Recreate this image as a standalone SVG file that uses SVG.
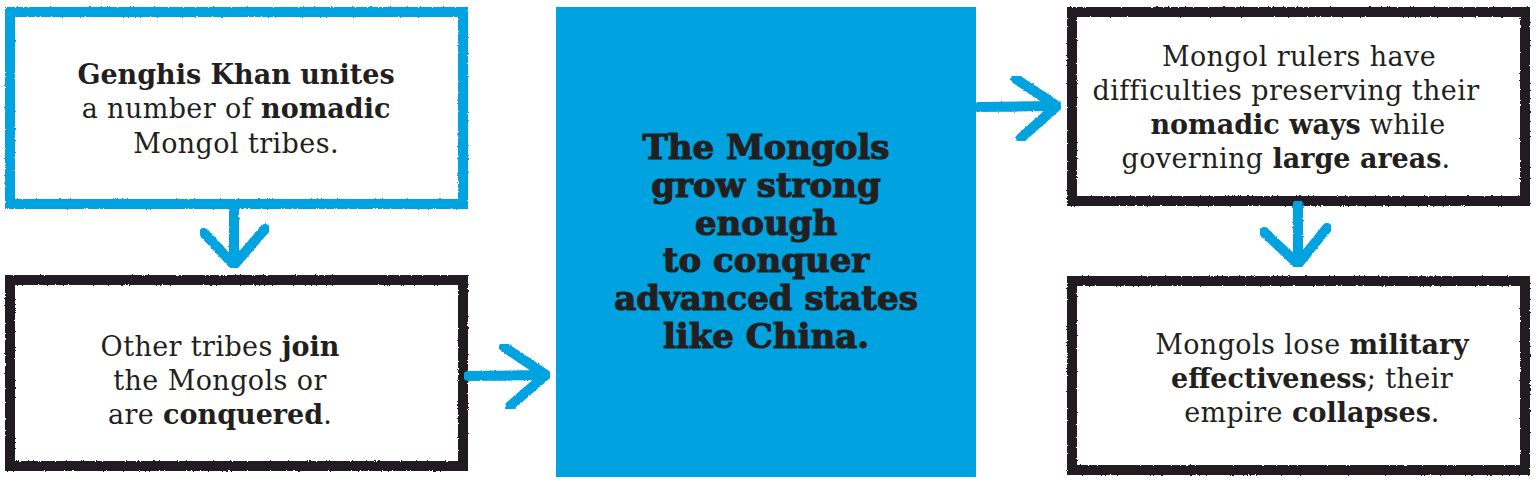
<svg xmlns="http://www.w3.org/2000/svg" width="1536" height="482" viewBox="0 0 1536 482">
<defs>
<filter id="rough" x="-5%" y="-5%" width="110%" height="110%">
<feTurbulence type="fractalNoise" baseFrequency="0.6" numOctaves="2" seed="3" result="n"/>
<feDisplacementMap in="SourceGraphic" in2="n" scale="2.5" xChannelSelector="R" yChannelSelector="G"/>
</filter>
</defs>
<style>
.box{fill:#fff;stroke-width:10;stroke-linejoin:miter;filter:url(#rough)}
.blue{stroke:#00a3e0}
.black{stroke:#231f20}
.t{font-family:"DejaVu Serif","Liberation Serif",serif;font-size:27px;fill:#231f20;text-anchor:middle;letter-spacing:0.4px}
.b{font-weight:bold;letter-spacing:0}
.c{font-family:"DejaVu Serif","Liberation Serif",serif;font-size:34px;font-weight:bold;fill:#231f20;stroke:#231f20;stroke-width:1.2;text-anchor:middle}
.arr{fill:none;stroke:#00a3e0;stroke-width:10;stroke-linecap:round;stroke-linejoin:round;filter:url(#rough)}
</style>
<rect width="1536" height="482" fill="#fff"/>
<g id="node1">
<rect class="box blue" x="10" y="12" width="453" height="192"/>
<text class="t" x="236" y="84"><tspan class="b">Genghis Khan unites</tspan></text>
<text class="t" x="236" y="118">a number of <tspan class="b">nomadic</tspan></text>
<text class="t" x="236" y="153">Mongol tribes.</text>
</g>
<g id="node2">
<rect class="box black" x="10" y="280" width="453" height="186"/>
<text class="t" x="220" y="356">Other tribes <tspan class="b">join</tspan></text>
<text class="t" x="220" y="390">the Mongols or</text>
<text class="t" x="220" y="424">are <tspan class="b">conquered</tspan>.</text>
</g>
<g id="node3">
<rect x="556" y="7" width="420" height="470" fill="#00a3e0"/>
<text class="c" x="766" y="159">The Mongols</text>
<text class="c" x="766" y="197">grow strong</text>
<text class="c" x="766" y="235">enough</text>
<text class="c" x="766" y="272">to conquer</text>
<text class="c" x="766" y="310">advanced states</text>
<text class="c" x="766" y="348">like China.</text>
</g>
<g id="node4">
<rect class="box black" x="1072" y="12" width="453" height="189"/>
<text class="t" x="1299" y="66">Mongol rulers have</text>
<text class="t" x="1286" y="100">difficulties preserving their</text>
<text class="t" x="1298" y="134"><tspan class="b">nomadic ways</tspan> while</text>
<text class="t" x="1286" y="168">governing <tspan class="b">large areas</tspan>.</text>
</g>
<g id="node5">
<rect class="box black" x="1072" y="281" width="453" height="189"/>
<text class="t" x="1312" y="354">Mongols lose <tspan class="b">military</tspan></text>
<text class="t" x="1312" y="388"><tspan class="b">effectiveness</tspan>; their</text>
<text class="t" x="1312" y="422">empire <tspan class="b">collapses</tspan>.</text>
</g>
<g id="connectors">
<path class="arr" d="M234,206 L234,262 M204,233 L234,265 L265,229"/>
<path class="arr" d="M468,376 L545,375 M504,347 L546,375 L510,406"/>
<path class="arr" d="M978,107 L1055,106 M1016,79 L1057,106 L1021,138"/>
<path class="arr" d="M1298,204 L1298,262 M1264,232 L1298,264 L1327,228"/>
</g>
</svg>
